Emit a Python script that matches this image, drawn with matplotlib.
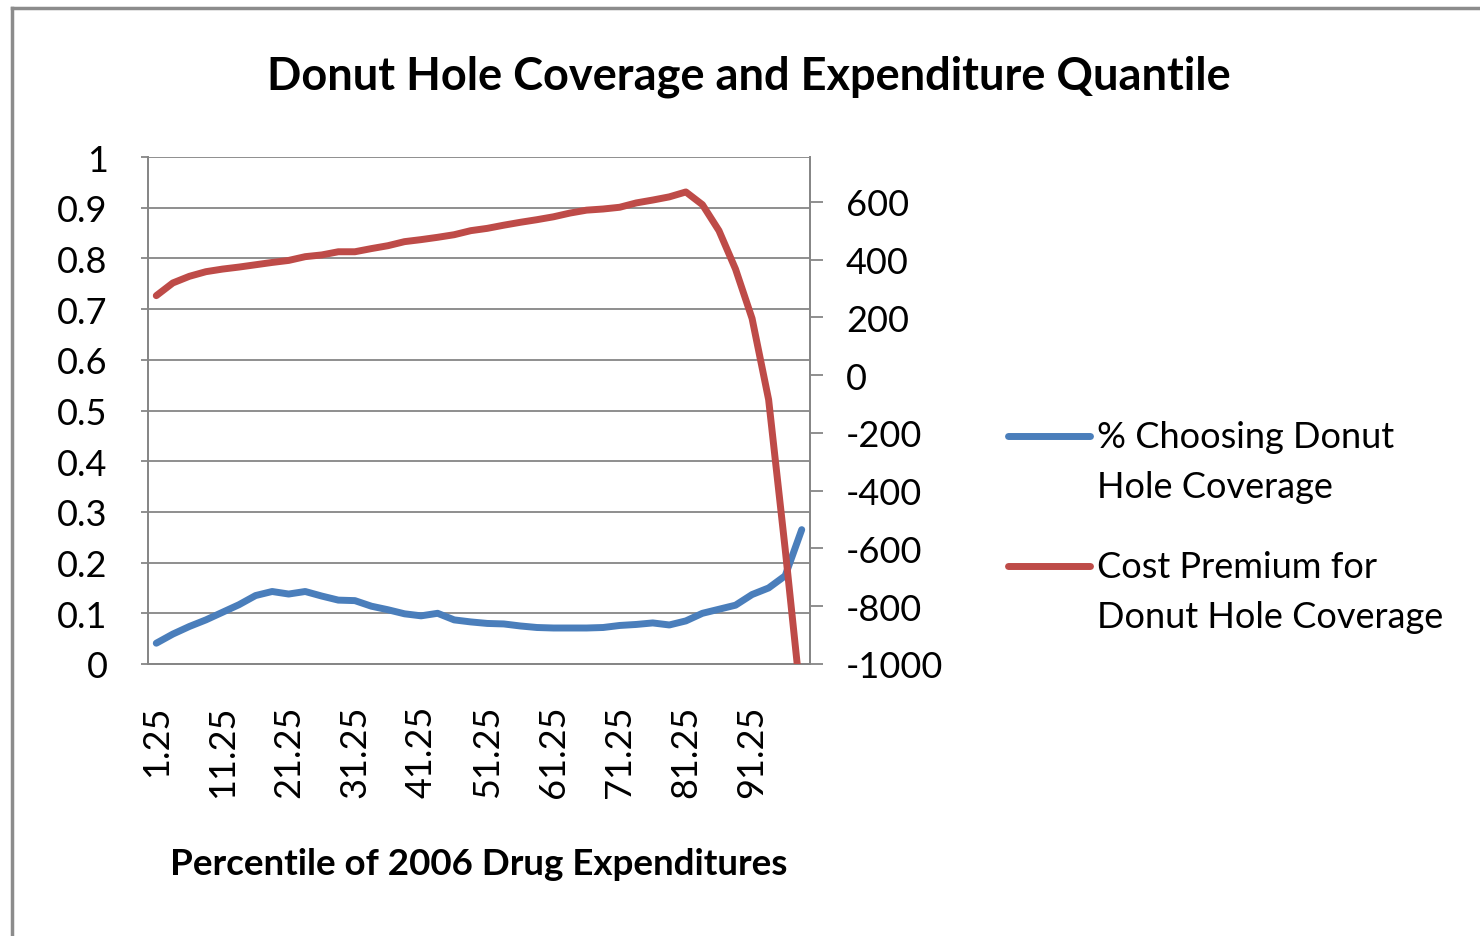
import matplotlib.pyplot as plt
from matplotlib.lines import Line2D
from matplotlib.ticker import FixedLocator

# categorie: percentili della spesa 2006
percentiles = [1.25, 3.75, 6.25, 8.75, 11.25, 13.75, 16.25, 18.75, 21.25, 23.75,
               26.25, 28.75, 31.25, 33.75, 36.25, 38.75, 41.25, 43.75, 46.25, 48.75,
               51.25, 53.75, 56.25, 58.75, 61.25, 63.75, 66.25, 68.75, 71.25, 73.75,
               76.25, 78.75, 81.25, 83.75, 86.25, 88.75, 91.25, 93.75, 96.25, 98.75]

# quota che sceglie la copertura del donut hole (asse sinistro)
share_choosing = [0.041, 0.059, 0.074, 0.087, 0.102, 0.117, 0.135, 0.143, 0.138, 0.143,
                  0.134, 0.126, 0.125, 0.114, 0.107, 0.099, 0.095, 0.100, 0.087, 0.083,
                  0.080, 0.079, 0.075, 0.072, 0.071, 0.071, 0.071, 0.072, 0.076, 0.078,
                  0.081, 0.077, 0.085, 0.100, 0.108, 0.116, 0.137, 0.150, 0.174, 0.265]

# premio di costo (asse destro)
cost_premium = [275, 319, 342, 358, 367, 374, 382, 390, 397, 410,
                416, 427, 427, 438, 448, 462, 469, 477, 486, 500,
                508, 519, 529, 538, 548, 561, 571, 575, 581, 596,
                606, 617, 634, 590, 500, 367, 196, -85, -602, -1150]

label_every = 4
blue = '#4A7EBB'
red = '#BE4B48'
grey = '#868686'

plt.rcParams['font.family'] = ['Lato', 'DejaVu Sans']
plt.rcParams['axes.unicode_minus'] = False

fig = plt.figure(figsize=(14.8, 9.37), dpi=100)
ax = fig.add_axes([148/1480, 1-665/937, (810-148)/1480, (665-158)/937])
ax2 = ax.twinx()

x = list(range(len(percentiles)))
ax.plot(x, share_choosing, color=blue, lw=5, solid_capstyle='round', zorder=3)
ax2.plot(x, cost_premium, color=red, lw=5, solid_capstyle='round', zorder=3)

ax.set_xlim(-0.5, len(percentiles) - 0.5)
ax.set_ylim(0, 1)
ax.set_yticks([i / 10 for i in range(11)])
ax.set_yticklabels(['0'] + ['%.1f' % (i / 10) for i in range(1, 10)] + ['1'])
ax2.set_ylim(-1000, 755)
ax2.yaxis.set_major_locator(FixedLocator(list(range(-1000, 601, 200))))

ax.set_xticks(x[::label_every])
ax.set_xticklabels(['%g' % p for p in percentiles[::label_every]], rotation=90)

ax.grid(axis='y', color=grey, lw=1.3)
ax.set_axisbelow(True)
for a in (ax, ax2):
    for s in a.spines.values():
        s.set_color(grey)
        s.set_linewidth(1.3)
    a.spines['top'].set_visible(False)
ax.tick_params(axis='y', length=5, width=1.3, color=grey, pad=24, labelsize=26)
ax.tick_params(axis='x', length=0, pad=29, labelsize=26)
ax2.tick_params(axis='y', length=9, width=1.3, color=grey, pad=17, labelsize=26)

ax.set_xlabel('Percentile of 2006 Drug Expenditures', fontsize=26.5, fontweight='bold', labelpad=36)
fig.text(0.506, 1-77/937, 'Donut Hole Coverage and Expenditure Quantile',
         ha='center', va='center', fontsize=32.5, fontweight='bold')

# legenda a mano (maniglia allineata alla prima riga, come in Excel)
fig.add_artist(Line2D([1008/1480, 1090/1480], [1-437/937, 1-437/937], color=blue, lw=5,
                      solid_capstyle='round'))
fig.add_artist(Line2D([1008/1480, 1090/1480], [1-567/937, 1-567/937], color=red, lw=5,
                      solid_capstyle='round'))
fig.text(1097/1480, 1-437/937, '% Choosing Donut', fontsize=26, va='center')
fig.text(1097/1480, 1-488/937, 'Hole Coverage', fontsize=26, va='center')
fig.text(1097/1480, 1-567/937, 'Cost Premium for', fontsize=26, va='center')
fig.text(1097/1480, 1-618/937, 'Donut Hole Coverage', fontsize=26, va='center')

# cornice del grafico
fig.add_artist(Line2D([12/1480, 1], [1-9/937, 1-9/937], color='#8C8C8C', lw=2.5))
fig.add_artist(Line2D([12/1480, 12/1480], [0, 1-9/937], color='#8C8C8C', lw=2.5))

fig.savefig('out.png', dpi=100)
